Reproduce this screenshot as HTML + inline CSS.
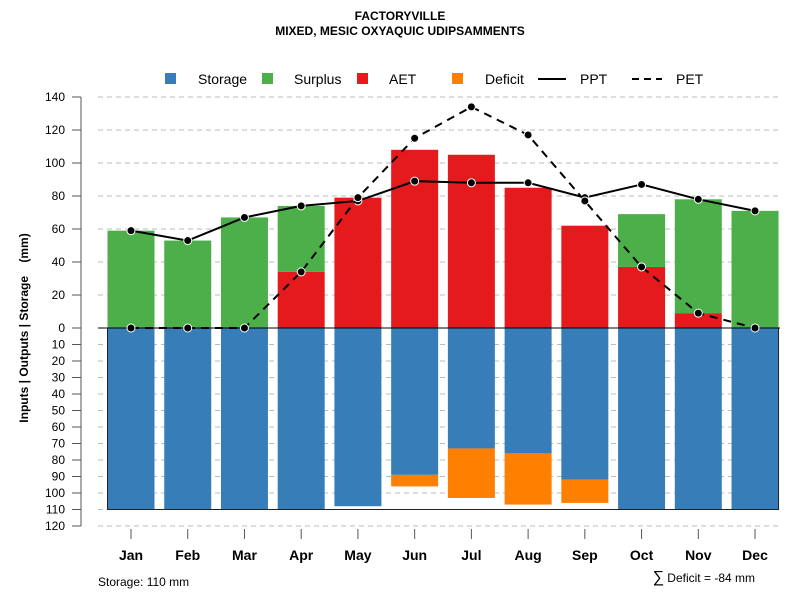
<!DOCTYPE html>
<html><head><meta charset="utf-8"><style>
body{margin:0;background:#fff}
svg{font-family:"Liberation Sans",sans-serif}
</style></head><body>
<svg id="c" width="800" height="600">
<text x="400" y="20" text-anchor="middle" font-size="12" font-weight="bold">FACTORYVILLE</text>
<text x="400" y="35" text-anchor="middle" font-size="12" font-weight="bold">MIXED, MESIC OXYAQUIC UDIPSAMMENTS</text>
<g id="grid"></g>
<g id="bars"></g>
<g id="lines"></g>
<g id="axes"></g>
<g font-size="14">
<rect x="165" y="73" width="11" height="11" fill="#377eb8"/><text x="198" y="84">Storage</text>
<rect x="262" y="73" width="11" height="11" fill="#4daf4a"/><text x="294" y="84">Surplus</text>
<rect x="357" y="73" width="11" height="11" fill="#e41a1c"/><text x="389" y="84">AET</text>
<rect x="452" y="73" width="11" height="11" fill="#ff7f00"/><text x="485" y="84">Deficit</text>
<line x1="538" y1="79" x2="566" y2="79" stroke="#000" stroke-width="2"/><text x="580" y="84">PPT</text>
<line x1="632" y1="79" x2="662" y2="79" stroke="#000" stroke-width="2" stroke-dasharray="7,5"/><text x="676" y="84">PET</text>
</g>
<text transform="translate(28,328) rotate(-90)" text-anchor="middle" font-size="12" font-weight="bold" style="white-space:pre">Inputs | Outputs | Storage    (mm)</text>
<text x="98" y="586" font-size="12">Storage: 110 mm</text>
<text x="755" y="582" text-anchor="end" font-size="12"><tspan font-size="16">∑</tspan> Deficit = -84 mm</text>
</svg>
<script>
const months=["Jan","Feb","Mar","Apr","May","Jun","Jul","Aug","Sep","Oct","Nov","Dec"];
const ppt=[59,53,67,74,77,89,88,88,79,87,78,71];
const pet=[0,0,0,34,79,115,134,117,77,37,9,0];
const aet=[0,0,0,34,79,108,105,85,62,37,9,0];
const surplus=[59,53,67,40,0,0,0,0,0,32,69,71];
const storage=[110,110,110,110,108,89,73,76,92,110,110,110];
const deficit=[0,0,0,0,0,7,30,31,14,0,0,0];
const yTicksUp=[0,20,40,60,80,100,120,140];
const yTicksDown=[10,20,30,40,50,60,70,80,90,100,110,120];
const NS="http://www.w3.org/2000/svg";
const y0=328,k=1.65,x0=131,dx=56.73,bw=47;
const yU=v=>y0-v*k, yD=v=>y0+v*k, xc=i=>x0+i*dx;
function mk(p,t,a){const e=document.createElementNS(NS,t);for(const n in a)e.setAttribute(n,a[n]);document.getElementById(p).appendChild(e);return e;}
yTicksUp.concat(yTicksDown.map(v=>-v)).forEach(v=>{const y=v>=0?yU(v):yD(-v);
 const g=mk('grid','line',{x1:98,x2:780,y1:y,y2:y,stroke:'#bbb','stroke-dasharray':'5,4'});
 
 });
months.forEach((m,i)=>{const x=xc(i)-bw/2;
 const r1=mk('bars','rect',{x:x,y:yU(aet[i]),width:bw,height:aet[i]*k,fill:'#e41a1c'});
 
 
 const r2=mk('bars','rect',{x:x,y:yU(aet[i]+surplus[i]),width:bw,height:surplus[i]*k,fill:'#4daf4a'});
 
 
 const r3=mk('bars','rect',{x:x,y:y0,width:bw,height:storage[i]*k,fill:'#377eb8'});
 
 
 const r4=mk('bars','rect',{x:x,y:yD(storage[i]),width:bw,height:deficit[i]*k,fill:'#ff7f00'});
 
 
});
const bx=mk('bars','rect',{x:xc(0)-bw/2,y:y0,width:xc(11)-xc(0)+bw,height:110*k,fill:'none',stroke:'#222','stroke-width':1});


const zl=mk('bars','line',{x1:98,x2:780,y1:y0,y2:y0,stroke:'#000'});


function series(arr,dash,name){
 const p=mk('lines','polyline',{points:arr.map((v,i)=>xc(i)+','+yU(v)).join(' '),fill:'none',stroke:'#000','stroke-width':2,'stroke-dasharray':dash});
 
 
 arr.forEach((v,i)=>{const c=mk('lines','circle',{cx:xc(i),cy:yU(v),r:4,fill:'#000',stroke:'#fff','stroke-width':1});
  
  });
}
series(ppt,'none','ppt');series(pet,'8,6','pet');
const ax=mk('axes','line',{x1:81,x2:81,y1:yU(140),y2:yD(120),stroke:'#555'});


function yt(v,y){mk('axes','line',{x1:72,x2:81,y1:y,y2:y,stroke:'#555'});
 const t=mk('axes','text',{x:65,y:y+4,'text-anchor':'end','font-size':12});t.textContent=v;
 
 }
yTicksUp.forEach(v=>yt(v,yU(v)));yTicksDown.forEach(v=>yt(v,yD(v)));
months.forEach((m,i)=>{mk('axes','line',{x1:xc(i),x2:xc(i),y1:529,y2:539,stroke:'#555'});
 const t=mk('axes','text',{x:xc(i),y:560,'text-anchor':'middle','font-size':14,'font-weight':'bold'});t.textContent=m;
 
 });
</script>
</body></html>
